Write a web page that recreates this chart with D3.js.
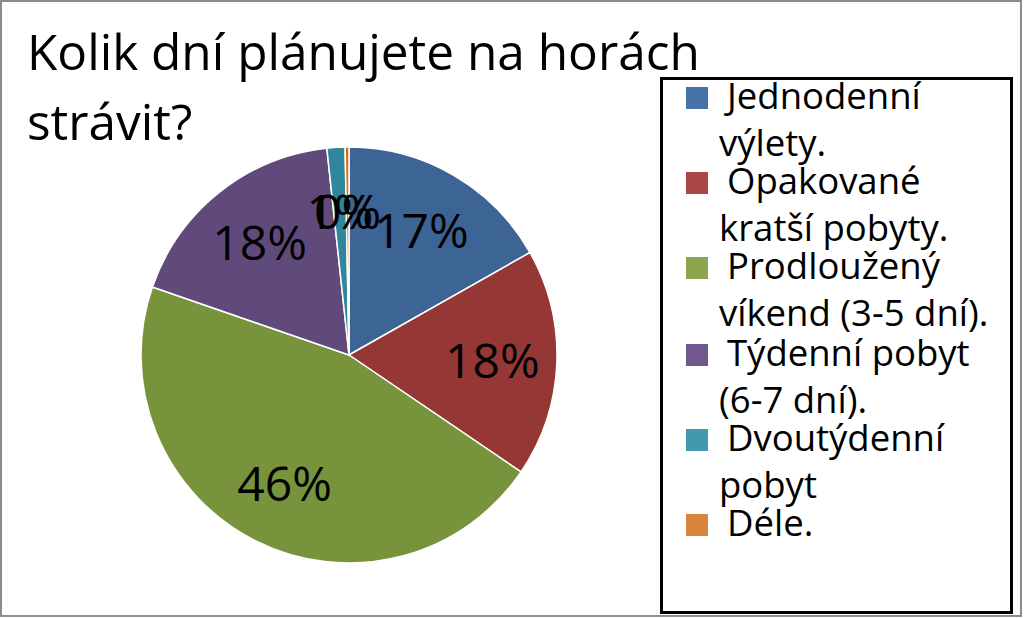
<!DOCTYPE html>
<html><head><meta charset="utf-8">
<script src="https://cdn.jsdelivr.net/npm/d3@7"></script>
<style>html,body{margin:0;padding:0;background:#fff}</style>
</head><body>
<svg id="c" width="1024" height="618"></svg>
<script>
const categories = ["Jednodenní výlety.", "Opakované kratší pobyty.", "Prodloužený víkend (3-5 dní).", "Týdenní pobyt (6-7 dní).", "Dvoutýdenní pobyt", "Déle."];
const legendLines = [["Jednodenní", "výlety."], ["Opakované", "kratší pobyty."], ["Prodloužený", "víkend (3-5 dní)."], ["Týdenní pobyt", "(6-7 dní)."], ["Dvoutýdenní", "pobyt"], ["Déle."]];
const values = [16.8, 17.7, 45.8, 18.0, 1.4, 0.3];
const sliceColors = ["#3C6494", "#953735", "#77933C", "#604A7B", "#31859C", "#E46C0A"];
const swatchColors = ["#4572A7", "#AA4643", "#89A54E", "#71588F", "#4198AF", "#DB843D"];
const titleLines = ["Kolik dní plánujete na horách", "strávit?"];

const svg = d3.select("#c");
const font = "'Open Sans', sans-serif";

// outer frame
svg.append("rect").attr("x", 1).attr("y", 1).attr("width", 1020).attr("height", 615)
  .attr("fill", "#fff").attr("stroke", "#8c8c8c").attr("stroke-width", 2);

function fit(t, target) {
  const w = t.node().getComputedTextLength();
  const fs = parseFloat(t.attr("font-size"));
  t.attr("font-size", fs * target / w);
}

// title
const t1 = svg.append("text").attr("x", 27).attr("y", 70).attr("font-family", font)
  .attr("font-size", 48).attr("fill", "#000").text(titleLines[0]);
fit(t1, 673);
const fsT = t1.attr("font-size");
svg.append("text").attr("x", 27).attr("y", 140).attr("font-family", font)
  .attr("font-size", fsT).attr("fill", "#000").text(titleLines[1]);

// pie
const cx = 349, cy = 355, R = 208;
const color = d3.scaleOrdinal().domain(categories).range(sliceColors);
const pie = d3.pie().sort(null).value(d => d.v);
const data = pie(categories.map((c, i) => ({c, v: values[i]})));
const arc = d3.arc().innerRadius(0).outerRadius(R);
const labelArc = d3.arc().innerRadius(R * 0.69).outerRadius(R * 0.69);
const g = svg.append("g").attr("transform", `translate(${cx},${cy})`);
g.selectAll("path").data(data).join("path")
  .attr("d", arc).attr("fill", d => color(d.data.c))
  .attr("stroke", "#fff").attr("stroke-width", 1.5).attr("stroke-linejoin", "round");
const total = d3.sum(values);
g.selectAll("text.lab").data(data).join("text").attr("class", "lab")
  .attr("transform", d => { const p = labelArc.centroid(d); return `translate(${p[0]},${p[1]})`; })
  .attr("text-anchor", "middle").attr("dy", "0.36em")
  .attr("font-family", font).attr("font-size", 48).attr("fill", "#000")
  .text(d => d3.format(".0%")(d.data.v / total));

// legend
svg.append("rect").attr("x", 661.5).attr("y", 78.5).attr("width", 350).attr("height", 534)
  .attr("fill", "#fff").attr("stroke", "#000").attr("stroke-width", 3);
const firstBase = [109, 194, 279, 366, 451, 536];
const lg = svg.append("g");
legendLines.forEach((lines, i) => {
  lg.append("rect").attr("x", 686).attr("y", firstBase[i] - 22).attr("width", 22).attr("height", 22)
    .attr("fill", swatchColors[i]);
  lines.forEach((ln, j) => {
    lg.append("text").attr("x", j === 0 ? 727 : 719).attr("y", firstBase[i] + j * 47)
      .attr("font-family", font).attr("font-size", 36.5).attr("fill", "#000").text(ln);
  });
});
</script>
</body></html>
